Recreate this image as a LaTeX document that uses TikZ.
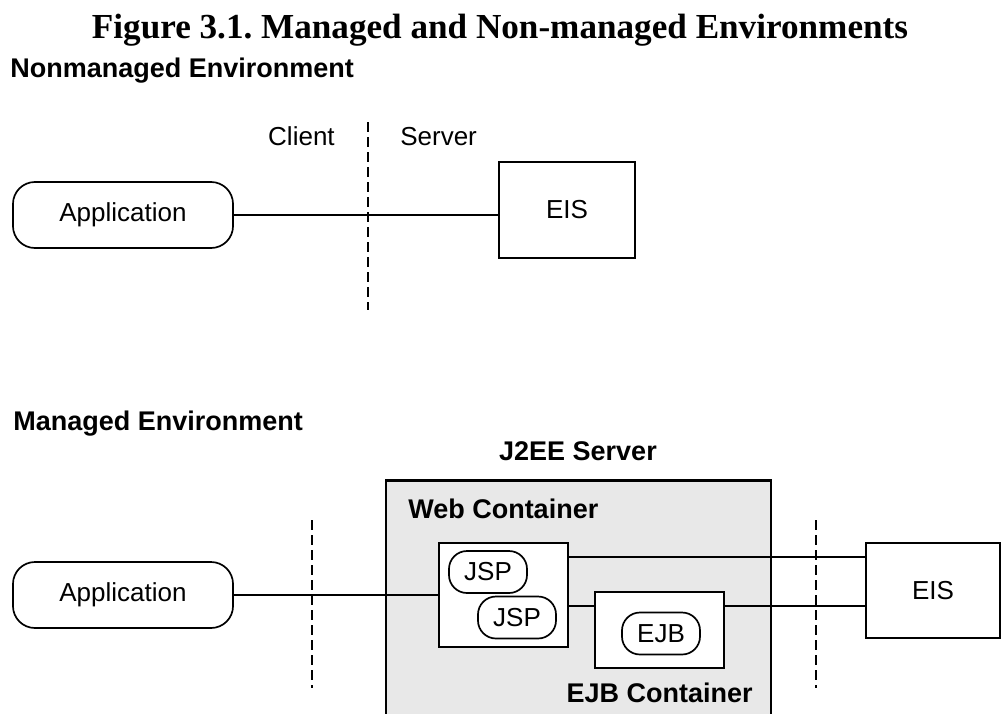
\documentclass[tikz,border=0pt]{standalone}
\usepackage{fontspec}
\setmainfont{Liberation Sans}
\newfontfamily\titlefont{Liberation Serif}
\usepackage{tikz}
\usetikzlibrary{positioning, calc}
\definecolor{servergray}{RGB}{232,232,232}
\frenchspacing

\begin{document}
\begin{tikzpicture}[x=0.025cm, y=-0.025cm,
    txt/.style={font=\fontsize{18.5}{22}\selectfont, inner sep=0pt},
    heading/.style={font=\fontsize{19.2}{22}\selectfont\bfseries, inner sep=0pt},
    pill/.style={draw, line width=1.2pt, fill=white, rounded corners=0.55cm, minimum width=5.5cm, minimum height=1.65cm, font=\fontsize{18.5}{22}\selectfont},
    box/.style={draw, line width=1.2pt, fill=white, inner sep=0pt, font=\fontsize{18.5}{22}\selectfont},
    bean/.style={draw, line width=1.2pt, fill=white, rounded corners=0.45cm, minimum width=1.95cm, minimum height=1.05cm, inner sep=0pt, font=\fontsize{18.5}{22}\selectfont},
    wire/.style={line width=1.2pt},
    divider/.style={line width=1.5pt, dash pattern=on 0.25cm off 0.125cm}]
    \clip (0,0) rectangle (1001,713);

    % Title
    \node[font=\titlefont\fontsize{25}{30}\selectfont\bfseries, anchor=base] (title) at (500,38) {Figure 3.1. Managed and Non-managed Environments};

    % Nonmanaged part
    \node[heading, anchor=base west] (nonmgd) at (10,77) {Nonmanaged Environment};
    \node[txt, anchor=base east] (client) at (335,145) {Client};
    \node[txt, anchor=base west] (server) at (400,145) {Server};
    \node[pill] (app1) at (123,215) {Application};
    \node[box, minimum width=3.4cm, minimum height=2.4cm] (eis1) at (567,210) {EIS};
    \coordinate (cut1top) at (368,122);
    \coordinate (cut1bot) at (368,310);
    \draw[divider] (cut1top) -- (cut1bot);
    \draw[wire] (app1.east) -- (app1.east -| eis1.west);

    % Managed part
    \node[heading, anchor=base west] (mgd) at (13,430) {Managed Environment};
    \node[draw, line width=1.8pt, fill=servergray, minimum width=9.625cm, minimum height=7cm, anchor=north] (j2ee) at (578.5,479) {};
    \node[heading, anchor=base] (j2eetitle) at (578,460) {J2EE Server};
    \node[heading, anchor=base west] (webtitle) at (408,518) {Web Container};
    \node[box, minimum width=3.225cm, minimum height=2.6cm] (web) at (503.5,595) {};
    \node[bean] (jsp1) at (488,572) {JSP};
    \node[bean] (jsp2) at (517,617.5) {JSP};
    \node[box, minimum width=3.225cm, minimum height=1.9cm] (ejbbox) at (659.5,630) {};
    \node[bean] (ejb) at (661,633.5) {EJB};
    \node[heading, anchor=base east] (ejbtitle) at (753,702) {EJB Container};
    \node[box, minimum width=3.35cm, minimum height=2.375cm] (eis2) at (933,590.5) {EIS};
    \node[pill] (app2) at (123,595) {Application};

    \coordinate (cut2top) at (312,520);
    \coordinate (cut2bot) at (312,688);
    \coordinate (cut3top) at (816,520);
    \coordinate (cut3bot) at (816,688);
    \draw[divider] (cut2top) -- (cut2bot);
    \draw[divider] (cut3top) -- (cut3bot);

    \coordinate (webout) at ($(web.north east)+(0,15)$);
    \coordinate (ejbin) at ($(ejbbox.north west)+(0,15)$);
    \draw[wire] (app2.east) -- (app2.east -| web.west);
    \draw[wire] (webout) -- (webout -| eis2.west);
    \draw[wire] (ejbin) -- (ejbin -| web.east);
    \draw[wire] (ejbin -| ejbbox.east) -- (ejbin -| eis2.west);
\end{tikzpicture}
\end{document}
